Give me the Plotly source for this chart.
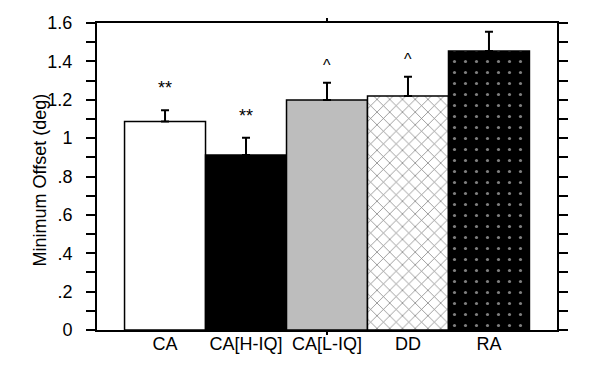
import plotly.graph_objects as go

categories = ["CA", "CA[H-IQ]", "CA[L-IQ]", "DD", "RA"]
means = [1.086, 0.912, 1.199, 1.220, 1.454]
errors_up = [0.059, 0.090, 0.090, 0.100, 0.101]
marks = ["**", "**", "^", "^", ""]
ytick_vals = [0, 0.2, 0.4, 0.6, 0.8, 1.0, 1.2, 1.4, 1.6]
ytick_text = ["0", ".2", ".4", ".6", ".8", "1", "1.2", "1.4", "1.6"]

fills = ["white", "black", "#bdbdbd", "white", "black"]
pshapes = ["", "", "", "x", "."]
pfg = ["black", "black", "black", "black", "white"]
psize = [8, 8, 8, 9, 11]
psolid = [0.2, 0.2, 0.2, 0.16, 0.065]

FONT = "Liberation Sans, Arial, sans-serif"
FS = 18

fig = go.Figure()
for i, cat in enumerate(categories):
    fig.add_trace(go.Bar(
        x=[i], y=[means[i]], width=1.0,
        marker=dict(color=fills[i], line=dict(color="black", width=1.5),
                    pattern=dict(shape=pshapes[i], fgcolor=pfg[i], size=psize[i],
                                 solidity=psolid[i], fillmode="overlay")),
        error_y=dict(type="data", symmetric=False, array=[errors_up[i]],
                     arrayminus=[0], color="black", thickness=2, width=4),
        showlegend=False, name=cat,
    ))
    if marks[i]:
        fig.add_annotation(x=i, y=means[i] + errors_up[i], text=marks[i], showarrow=False,
                           yanchor="bottom", yshift=10 if marks[i] == "**" else 7,
                           font=dict(family=FONT, size=18 if marks[i] == "**" else 16, color="black"))

# extra overlay axis carrying the single x tick seen on the frame
fig.add_trace(go.Scatter(x=[None], y=[None], xaxis="x2", showlegend=False))

# y-axis title as a rotated annotation so it can sit close to the tick labels
fig.add_annotation(text="Minimum Offset (deg)", xref="paper", yref="paper",
                   x=-0.124, y=0.49, xanchor="center", yanchor="middle",
                   textangle=-90, showarrow=False,
                   font=dict(family=FONT, size=FS, color="black"))

xr = [-0.84, 4.84]
fig.update_layout(
    width=600, height=373,
    margin=dict(l=97, r=43, t=23, b=43),
    paper_bgcolor="white", plot_bgcolor="white",
    barmode="overlay",
    font=dict(family=FONT, size=FS, color="black"),
    xaxis=dict(range=xr, tickmode="array", tickvals=list(range(len(categories))),
               ticktext=categories, automargin=False,
               ticks="", showgrid=False, zeroline=False,
               showline=True, linecolor="black", linewidth=2, mirror=True,
               tickfont=dict(size=FS), ticklabelstandoff=-4),
    xaxis2=dict(range=xr, overlaying="x", side="bottom", tickmode="array",
                tickvals=[2], ticktext=[""], ticks="outside", ticklen=4,
                tickwidth=2, tickcolor="black", showgrid=False, zeroline=False,
                showline=False, mirror="ticks", automargin=False),
    yaxis=dict(range=[0, 1.6], tickmode="array", tickvals=ytick_vals, ticktext=ytick_text,
               ticks="outside", ticklen=9, tickwidth=2, tickcolor="black",
               minor=dict(dtick=0.1, ticks="outside", ticklen=4, tickwidth=2, tickcolor="black"),
               showgrid=False, zeroline=False, automargin=False,
               showline=True, linecolor="black", linewidth=2, mirror="allticks",
               tickfont=dict(size=FS), ticklabelstandoff=10),
)

fig.write_html("out.html", config={"displayModeBar": False},
               post_script="document.body.style.margin='0';document.body.style.padding='0';")
